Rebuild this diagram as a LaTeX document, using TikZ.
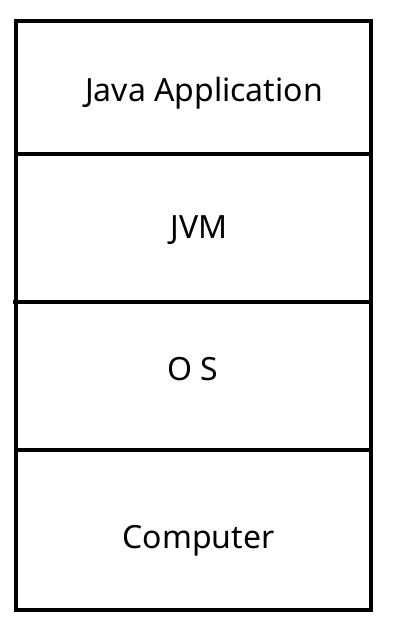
\documentclass[tikz,border=0pt]{standalone}
\usepackage{fontspec}
\setmainfont{Noto Sans}
\usetikzlibrary{positioning}

\tikzset{
  layer/.style={draw, line width=4pt},
  label/.style={anchor=base, inner sep=0pt, font=\fontsize{32}{38}\selectfont}
}

\begin{document}
\begin{tikzpicture}[x=1pt, y=-1pt]
        \useasboundingbox (0,0) rectangle (403,641);

        % layers, top to bottom
        \coordinate (A1) at (16,21);
        \coordinate (A2) at (371,154);
        \coordinate (B2) at (371,302);
        \coordinate (C2) at (371,450);
        \coordinate (D2) at (371,610);
        \draw[layer] (A1) rectangle (D2);
        \draw[layer] (16,154) -- (A2);
        \draw[layer] (13,302) -- (B2);
        \draw[layer] (16,450) -- (C2);

        \node[label] (app) at (204,101) {Java Application};
        \node[label] (jvm) at (199,238) {JVM};
        \node[label] (os) at (193,380) {O S};
        \node[label] (pc) at (198.5,548) {Computer};
    \end{tikzpicture}
\end{document}
